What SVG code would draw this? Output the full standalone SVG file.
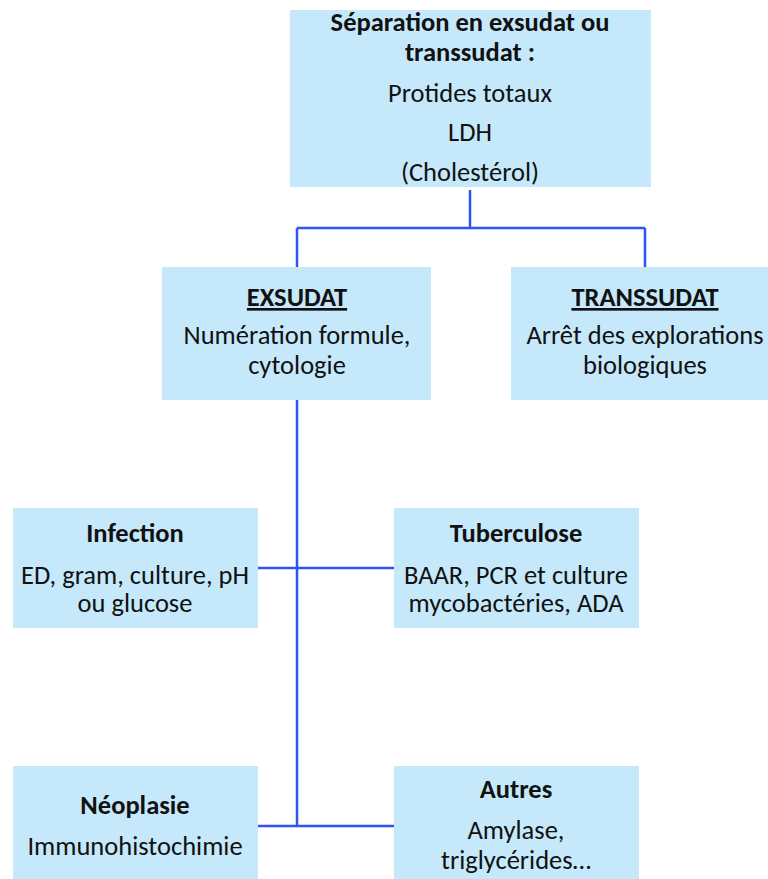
<svg xmlns="http://www.w3.org/2000/svg" width="768" height="879" viewBox="0 0 768 879">
<style>
.box{fill:#C5E9FA}
text{font-family:Carlito,Lato,"Liberation Sans",sans-serif;font-size:26.5px;fill:#111;text-anchor:middle}
.b{font-weight:bold}
.conn{stroke:#2F55F0;stroke-width:2.5;fill:none}
</style>
<rect width="768" height="879" fill="#fff"/>
<g id="connectors">
<path class="conn" d="M470 190V228M297 228H645M297 228V267M645 228V267"/>
<path class="conn" d="M297 400V826M258 568H394M258 826H394"/>
</g>
<g id="top">
<rect class="box" x="290" y="10" width="361" height="177"/>
<text class="b" x="470" y="31">Séparation en exsudat ou</text>
<text class="b" x="470" y="61">transsudat :</text>
<text x="470" y="102">Protides totaux</text>
<text x="470" y="141">LDH</text>
<text x="470" y="181">(Cholestérol)</text>
</g>
<g id="exsudat">
<rect class="box" x="162" y="267" width="269" height="133"/>
<text class="b" x="297" y="306" text-decoration="underline">EXSUDAT</text>
<text x="297" y="344">Numération formule,</text>
<text x="297" y="374">cytologie</text>
</g>
<g id="transsudat">
<rect class="box" x="511" y="267" width="269" height="133"/>
<text class="b" x="645" y="306" text-decoration="underline">TRANSSUDAT</text>
<text x="645" y="344">Arrêt des explorations</text>
<text x="645" y="374">biologiques</text>
</g>
<g id="infection">
<rect class="box" x="13" y="508" width="245" height="120"/>
<text class="b" x="135" y="542">Infection</text>
<text x="135" y="584">ED, gram, culture, pH</text>
<text x="135" y="612">ou glucose</text>
</g>
<g id="tuberculose">
<rect class="box" x="394" y="508" width="245" height="120"/>
<text class="b" x="516" y="542">Tuberculose</text>
<text x="516" y="584">BAAR, PCR et culture</text>
<text x="516" y="612">mycobactéries, ADA</text>
</g>
<g id="neoplasie">
<rect class="box" x="13" y="766" width="245" height="120"/>
<text class="b" x="135" y="814">Néoplasie</text>
<text x="135" y="855">Immunohistochimie</text>
</g>
<g id="autres">
<rect class="box" x="394" y="766" width="245" height="120"/>
<text class="b" x="516" y="798">Autres</text>
<text x="516" y="839">Amylase,</text>
<text x="516" y="869">triglycérides…</text>
</g>
</svg>
